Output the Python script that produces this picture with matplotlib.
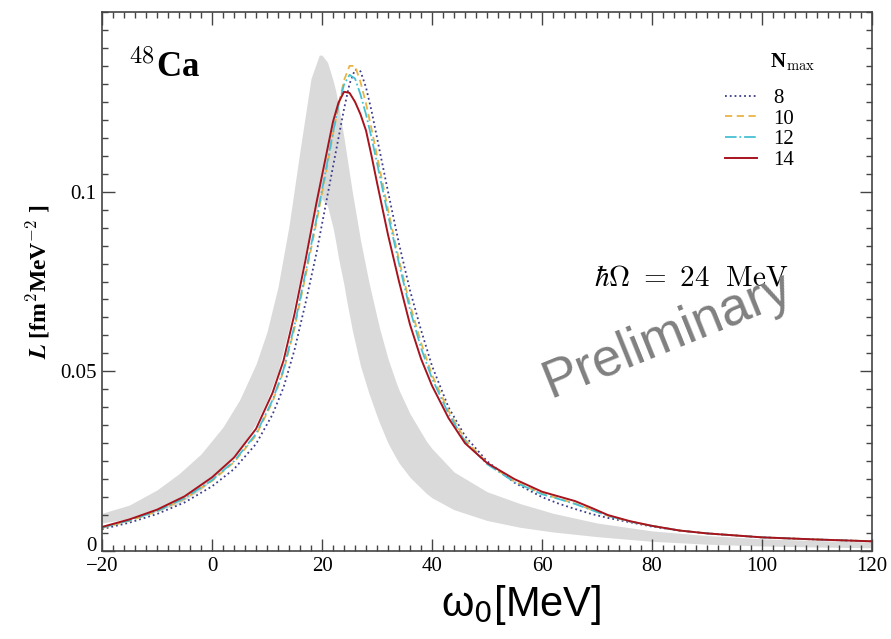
"""L(omega_0) response for 48Ca, hbar*Omega = 24 MeV"""

import numpy as np
import matplotlib
matplotlib.use('Agg')
import matplotlib.pyplot as plt
from matplotlib.ticker import MultipleLocator, FixedLocator, FixedFormatter

plt.rcParams['font.family'] = ['Liberation Serif', 'DejaVu Serif']
plt.rcParams['mathtext.fontset'] = 'cm'

# gray band (edges)
band_x = [-20, -15, -10, -6, -2, 2, 5, 8, 10, 12, 14, 16, 18, 19.5, 20, 21,
          22, 22.5, 23, 24, 24.5, 25.5, 27, 28.5, 30, 30.5, 32, 33.5, 34, 36,
          39, 40, 44, 50, 56, 62, 70, 80, 90, 100, 110, 120]
band_hi = [0.0105, 0.0128, 0.0170, 0.0215, 0.0270, 0.0345, 0.0420, 0.0520,
           0.0610, 0.0735, 0.0905, 0.1115, 0.1315, 0.1380, 0.1380, 0.1360,
           0.1310, 0.1280, 0.1240, 0.1150, 0.1100, 0.1000, 0.0865, 0.0750,
           0.0650, 0.0618, 0.0535, 0.0468, 0.0448, 0.0382, 0.0305, 0.0285,
           0.0220, 0.0165, 0.0132, 0.0105, 0.0078, 0.0056, 0.0043, 0.0034,
           0.0029, 0.0025]
band_lo = [0.0078, 0.0090, 0.0110, 0.0132, 0.0170, 0.0225, 0.0280, 0.0355,
           0.0420, 0.0500, 0.0620, 0.0760, 0.0900, 0.0970, 0.0980, 0.0960,
           0.0900, 0.0860, 0.0815, 0.0740, 0.0695, 0.0615, 0.0515, 0.0440,
           0.0375, 0.0355, 0.0300, 0.0258, 0.0245, 0.0205, 0.0160, 0.0148,
           0.0115, 0.0085, 0.0066, 0.0053, 0.0040, 0.0027, 0.0019, 0.0014,
           0.0011, 0.0009]

omega = [-20, -15, -10, -5, 0, 4, 8, 11, 13, 15, 17, 19, 21, 22, 23, 24, 25,
         26, 27, 28, 29, 30, 32, 34, 36, 38, 40, 43, 46, 50, 55, 60, 63, 66,
         69, 72, 76, 80, 85, 90, 100, 110, 120]
L_8 = [0.0061, 0.0079, 0.0103, 0.0135, 0.0180, 0.0228, 0.0298, 0.0380,
       0.0455, 0.0560, 0.0690, 0.0830, 0.0990, 0.1070, 0.1150, 0.1230,
       0.1300, 0.1340, 0.1335, 0.1290, 0.1225, 0.1150, 0.1000, 0.0855,
       0.0725, 0.0615, 0.0515, 0.0400, 0.0320, 0.0250, 0.0190, 0.0150,
       0.0132, 0.0117, 0.0103, 0.0092, 0.0080, 0.0068, 0.0057, 0.0049,
       0.0038, 0.0032, 0.0027]
L_10 = [0.0064, 0.0084, 0.0110, 0.0145, 0.0195, 0.0247, 0.0322, 0.0415,
        0.0500, 0.0620, 0.0765, 0.0915, 0.1075, 0.1160, 0.1240, 0.1310,
        0.1350, 0.1350, 0.1305, 0.1245, 0.1175, 0.1100, 0.0950, 0.0810,
        0.0685, 0.0580, 0.0490, 0.0390, 0.0310, 0.0245, 0.0193, 0.0160,
        0.0146, 0.0132, 0.0115, 0.0098, 0.0082, 0.0070, 0.0057, 0.0049,
        0.0038, 0.0032, 0.0027]
L_12 = [0.0065, 0.0085, 0.0111, 0.0147, 0.0197, 0.0250, 0.0326, 0.0420,
        0.0505, 0.0628, 0.0775, 0.0925, 0.1085, 0.1165, 0.1240, 0.1298,
        0.1325, 0.1315, 0.1270, 0.1215, 0.1150, 0.1080, 0.0935, 0.0800,
        0.0672, 0.0565, 0.0480, 0.0382, 0.0305, 0.0242, 0.0192, 0.0158,
        0.0145, 0.0131, 0.0114, 0.0098, 0.0082, 0.0070, 0.0057, 0.0049,
        0.0038, 0.0032, 0.0027]
L_14 = [0.0067, 0.0088, 0.0115, 0.0152, 0.0205, 0.0260, 0.0340, 0.0440,
        0.0530, 0.0660, 0.0810, 0.0970, 0.1120, 0.1195, 0.1248, 0.1278,
        0.1275, 0.1250, 0.1215, 0.1170, 0.1100, 0.1025, 0.0880, 0.0750,
        0.0630, 0.0535, 0.0460, 0.0370, 0.0300, 0.0245, 0.0200, 0.0165,
        0.0152, 0.0139, 0.0120, 0.0100, 0.0083, 0.0070, 0.0057, 0.0049,
        0.0038, 0.0032, 0.0027]

nmax_labels = ['8', '10', '12', '14']

fig = plt.figure(figsize=(8.91, 6.39), dpi=100)
ax = fig.add_axes([0.1145, 0.1377, 0.8642, 0.8435])

ax.fill_between(band_x, band_lo, band_hi, color='#dadada', lw=0)

l8, = ax.plot(omega, L_8, ':', color='#3c3c8c', lw=1.3)
l10, = ax.plot(omega, L_10, '--', color='#e8b446', lw=1.3, dashes=(4, 2.5))
l12, = ax.plot(omega, L_12, '-.', color='#46c0d2', lw=1.3)
l14, = ax.plot(omega, L_14, '-', color='#a8141e', lw=1.4)

ax.set_xlim(-20, 120)
ax.set_ylim(0, 0.15)
ax.xaxis.set_major_locator(MultipleLocator(20))
ax.xaxis.set_minor_locator(MultipleLocator(2))
ax.yaxis.set_major_locator(FixedLocator([0, 0.05, 0.1]))
ax.yaxis.set_major_formatter(FixedFormatter(['0', '0.05', '0.1']))
ax.yaxis.set_minor_locator(MultipleLocator(0.005))
ax.tick_params(which='both', direction='in', top=True, right=True,
               labelsize=15, width=1.0, color='#444444')
ax.tick_params(which='major', length=9, pad=4)
ax.tick_params(which='minor', length=4.5)
ax.yaxis.get_major_ticks()[0].label1.set_va('baseline')
for s in ax.spines.values():
    s.set_color('#444444')
    s.set_linewidth(1.2)

ax.set_ylabel(r'$\boldsymbol{L}$ [fm$^{2}$MeV$^{-2}$ ]', fontsize=17,
              fontweight='bold', labelpad=6)
ax.set_xlabel(r'ω$_{0}$[MeV]', fontsize=30,
              family=['Liberation Sans Narrow', 'Liberation Sans', 'DejaVu Sans'],
              labelpad=6)
ax.xaxis.label.set_math_fontfamily('dejavusans')
ax.xaxis.set_label_coords(0.544, -0.06, transform=ax.transAxes)
ax.xaxis.label.set_va('top')

ax.text(0.034, 0.93, r'$^{48}$Ca', transform=ax.transAxes, fontsize=25,
        fontweight='bold', va='top')
ax.text(0.766, 0.506, r'$\hbar\Omega\ =\ 24\ \ \mathrm{MeV}$',
        transform=ax.transAxes, fontsize=21, ha='center', va='center')
ax.text(0.735, 0.40, 'Preliminary', transform=ax.transAxes, fontsize=38,
        rotation=22, color='#808080', ha='center', va='center',
        family=['Liberation Sans', 'DejaVu Sans'])

ax.text(0.8675, 0.907, r'N$_{\rm max}$', transform=ax.transAxes, fontsize=15,
        fontweight='bold', ha='left', va='center')
leg = ax.legend([l8, l10, l12, l14], nmax_labels, loc='upper left',
                bbox_to_anchor=(0.809, 0.858), frameon=False, fontsize=15,
                handlelength=1.55, labelspacing=0.05, handletextpad=0.75,
                borderpad=0, borderaxespad=0)

fig.savefig('out.png', dpi=100)
